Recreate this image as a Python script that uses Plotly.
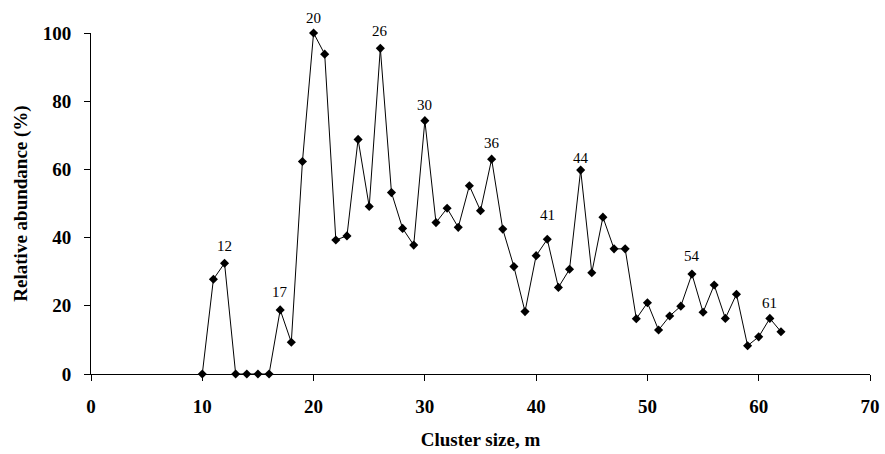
import plotly.graph_objects as go

cluster_size = list(range(10, 63))
abundance = [0, 27.8, 32.5, 0, 0, 0, 0, 18.8, 9.3, 62.3,
             100, 93.8, 39.3, 40.5, 68.8, 49.1, 95.5, 53.2, 42.7, 37.8,
             74.3, 44.4, 48.6, 43.0, 55.2, 47.9, 63.0, 42.5, 31.5, 18.3,
             34.7, 39.5, 25.4, 30.7, 59.8, 29.7, 46.0, 36.7, 36.7, 16.2,
             20.9, 12.9, 17.0, 19.9, 29.3, 18.1, 26.1, 16.3, 23.4, 8.3,
             10.9, 16.3, 12.4]
peak_labels = [12, 17, 20, 26, 30, 36, 41, 44, 54, 61]
label_shift = [17, 18, 15, 17, 16, 16, 24, 12, 18, 15]

x_ticks = [0, 10, 20, 30, 40, 50, 60, 70]
y_ticks = [0, 20, 40, 60, 80, 100]

serif = "Liberation Serif, Times New Roman, serif"

fig = go.Figure()
fig.add_trace(go.Scatter(
    x=cluster_size, y=abundance, mode="lines+markers",
    line=dict(color="black", width=1),
    marker=dict(symbol="diamond", size=7, color="black"),
    cliponaxis=False, showlegend=False,
))

for lab, sh in zip(peak_labels, label_shift):
    yv = abundance[cluster_size.index(lab)]
    fig.add_annotation(x=lab, y=yv, text=str(lab), showarrow=False,
                       yshift=sh, font=dict(family=serif, size=15, color="black"))

fig.update_layout(
    width=885, height=454,
    margin=dict(l=91, r=15, t=33, b=80),
    paper_bgcolor="white", plot_bgcolor="white",
    font=dict(family=serif, color="black"),
)
fig.update_xaxes(
    range=[0, 70], tickvals=x_ticks, ticktext=[str(v) for v in x_ticks],
    showgrid=False, zeroline=False, showline=True, linecolor="black", linewidth=1,
    ticks="outside", ticklen=6, tickcolor="black", ticklabelstandoff=9,
    tickfont=dict(family=serif, size=19, weight="bold"), automargin=False,
    title=dict(text="Cluster size, m", font=dict(family=serif, size=19, weight="bold"), standoff=16),
)
fig.update_yaxes(
    range=[0, 100], tickvals=y_ticks, ticktext=[str(v) for v in y_ticks],
    showgrid=False, zeroline=False, showline=True, linecolor="black", linewidth=1,
    ticks="outside", ticklen=6, tickcolor="black", ticklabelstandoff=9,
    tickfont=dict(family=serif, size=19, weight="bold"), automargin=False,
    title=dict(text="Relative abundance (%)", font=dict(family=serif, size=19, weight="bold"), standoff=10),
)

fig.write_html("out.html", config={"displayModeBar": False},
               post_script="document.body.style.margin='0';")
